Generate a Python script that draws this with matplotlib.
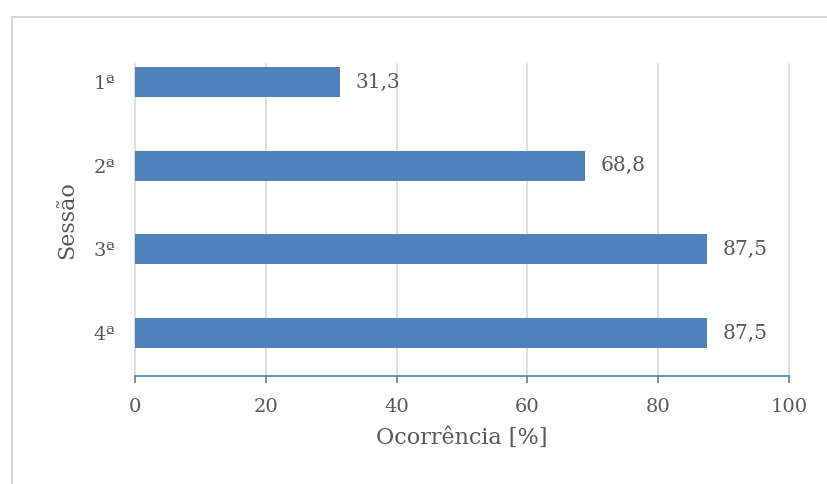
import matplotlib.pyplot as plt
from matplotlib.patches import Rectangle

# dados do gráfico
sessoes = ['1ª', '2ª', '3ª', '4ª']
ocorrencia = [31.3, 68.8, 87.5, 87.5]
rotulos = ['31,3', '68,8', '87,5', '87,5']
xticks = [0, 20, 40, 60, 80, 100]

plt.rcParams['font.family'] = ['DejaVu Serif']
cor_barra = '#4F81BD'
cor_texto = '#595959'
cor_grade = '#D9D9D9'

fig = plt.figure(figsize=(8.28, 4.84), dpi=100)

# moldura cinza da área do gráfico
fig.patches.append(Rectangle((12 / 828, -0.1), 1.2, 0.965 + 0.1,
                             transform=fig.transFigure, fill=False,
                             edgecolor=cor_grade, linewidth=1.5))

ax = fig.add_axes([135 / 828, 1 - 376 / 484, (789 - 135) / 828, (376 - 64) / 484])
pos = list(range(len(sessoes)))
ax.barh(pos, ocorrencia, height=0.36, color=cor_barra, zorder=3)

for p, v, r in zip(pos, ocorrencia, rotulos):
    ax.text(v + 2.4, p, r, va='center', ha='left', fontsize=14.5, color=cor_texto)

ax.set_xlim(0, 100)
ax.set_ylim(3.514, -0.215)
ax.set_xticks(xticks)
ax.set_xticklabels([str(t) for t in xticks])
ax.set_yticks(pos)
ax.set_yticklabels(sessoes)

for t in xticks:
    ax.axvline(t, color=cor_grade, linewidth=1.2, zorder=0, clip_on=False)
for s in ['top', 'right', 'left']:
    ax.spines[s].set_visible(False)
ax.spines['bottom'].set_color(cor_barra)
ax.spines['bottom'].set_linewidth(1.2)
ax.spines['bottom'].set_zorder(4)

ax.tick_params(axis='x', colors=cor_texto, labelsize=14, length=5,
               width=1.2, color=cor_barra, pad=11)
ax.tick_params(axis='y', colors=cor_texto, labelsize=14, length=0, pad=14)

ax.set_xlabel('Ocorrência [%]', fontsize=16, color=cor_texto, labelpad=8)
ax.set_ylabel('Sessão', fontsize=16, color=cor_texto, labelpad=11)

fig.savefig('out.png', dpi=100)
